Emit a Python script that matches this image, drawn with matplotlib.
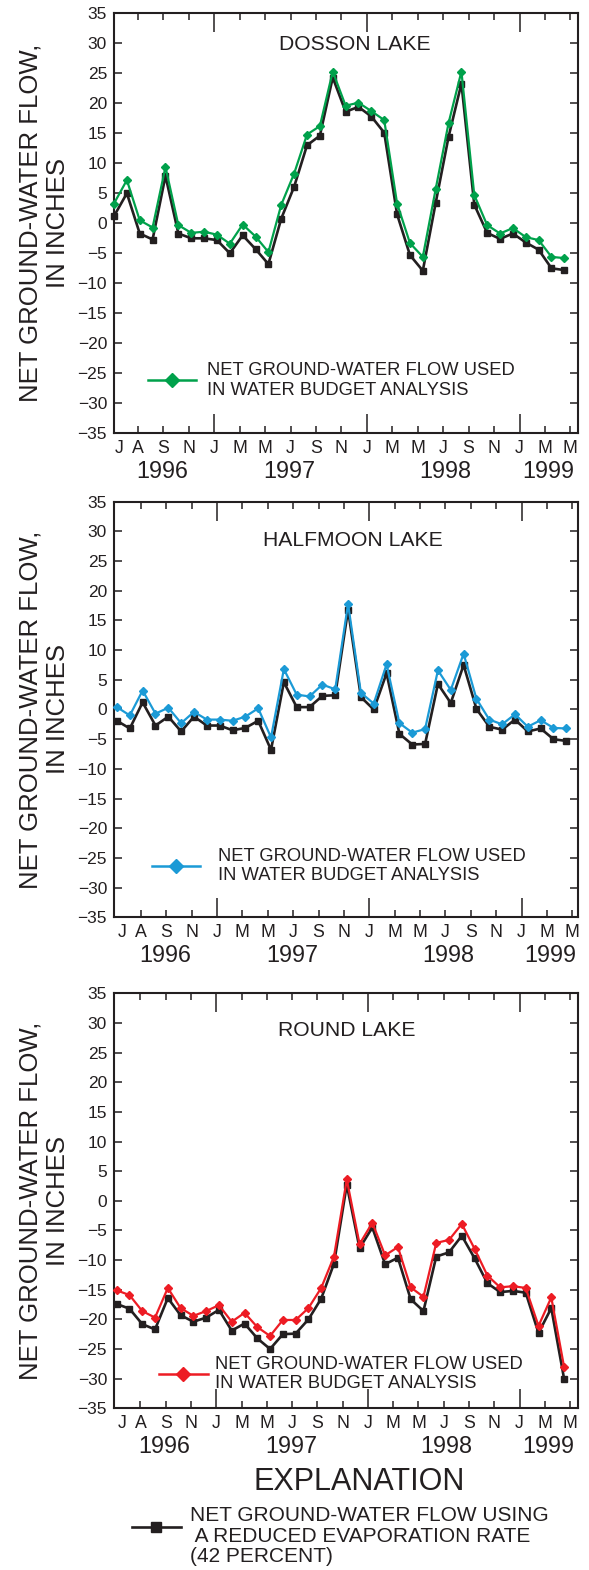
import matplotlib.pyplot as plt
import matplotlib.transforms as mtransforms
import numpy as np
from matplotlib.lines import Line2D

plt.rcParams['font.family'] = ['Liberation Sans', 'DejaVu Sans']

# month index of each observation (July 1996 onward)
obs = np.arange(36)

dosson_used = [3.3, 7.2, 0.5, -0.7, 9.4, -0.3, -1.6, -1.4, -1.9, -3.4, -0.2, -2.2,
               -4.8, 3.1, 8.3, 14.8, 16.2, 25.3, 19.6, 20.1, 18.7, 17.2, 3.3, -3.3,
               -5.6, 5.7, 16.7, 25.3, 4.7, -0.3, -1.7, -0.8, -2.3, -2.8, -5.6, -5.8]
dosson_reduced = [1.2, 5.0, -1.7, -2.7, 7.9, -1.7, -2.5, -2.5, -2.8, -5.0, -2.0, -4.3,
                  -6.8, 0.8, 6.1, 13.0, 14.6, 24.3, 18.6, 19.4, 17.8, 15.1, 1.5, -5.3,
                  -7.9, 3.4, 14.4, 23.3, 3.1, -1.6, -2.6, -1.7, -3.2, -4.4, -7.5, -7.8]

halfmoon_used = [0.4, -1.0, 3.2, -0.7, 0.3, -2.3, -0.4, -1.7, -1.7, -1.9, -1.2, 0.2,
                 -4.7, 6.8, 2.5, 2.2, 4.2, 3.4, 17.8, 2.8, 1.0, 7.6, -2.3, -3.9,
                 -3.3, 6.6, 3.3, 9.4, 1.8, -1.7, -2.5, -0.8, -2.9, -1.8, -3.1, -3.2]
halfmoon_reduced = [-1.9, -3.2, 1.2, -2.7, -1.2, -3.7, -1.2, -2.7, -2.7, -3.5, -3.1, -1.9,
                    -6.8, 4.6, 0.4, 0.4, 2.3, 2.4, 16.8, 2.1, 0.0, 6.1, -4.1, -5.9,
                    -5.8, 4.3, 1.1, 7.5, 0.1, -2.9, -3.4, -1.7, -3.7, -3.2, -5.0, -5.3]

round_used = [-15.1, -15.9, -18.6, -19.7, -14.7, -18.1, -19.4, -18.6, -17.6, -20.4, -18.9, -21.3,
              -22.8, -20.1, -20.1, -18.1, -14.7, -9.4, 3.6, -7.3, -3.7, -9.2, -7.8, -14.6,
              -16.2, -7.1, -6.6, -3.9, -8.1, -12.6, -14.6, -14.4, -14.7, -21.1, -16.3, -28.0]
round_reduced = [-17.4, -18.2, -20.8, -21.7, -16.4, -19.3, -20.4, -19.7, -18.4, -21.9, -20.7, -23.2,
                 -25.0, -22.5, -22.4, -20.0, -16.5, -10.6, 2.7, -8.0, -4.5, -10.7, -9.6, -16.6,
                 -18.6, -9.4, -8.7, -5.9, -9.7, -13.9, -15.4, -15.2, -15.5, -22.3, -18.1, -30.0]

lake_names = ['DOSSON LAKE', 'HALFMOON LAKE', 'ROUND LAKE']
used_colors = ['#00a14b', '#1b9ad6', '#ed1c24']
first_month = 'J'
month_labels = ['A', 'S', 'N', 'J', 'M', 'M', 'J', 'S', 'N', 'J', 'M', 'M',
                'J', 'S', 'N', 'J', 'M', 'M']
year_labels = ['1996', '1997', '1998', '1999']
year_pos = [3.73, 13.64, 25.77, 33.75]

INK = '#231f20'
tick_pos = 1.86 + 1.977 * np.arange(len(month_labels))
long_ticks = [3, 9, 15]

W, H = 589, 1570
fig = plt.figure(figsize=(W / 100, H / 100), dpi=100)

# axes boxes in pixels: (top, bottom)
boxes = [(13.3, 433.3), (501.7, 917.3), (993.3, 1408.3)]
xlims = [(0.0, 36.06), (-0.23, 35.91), (-0.21, 36.09)]
title_x = [0.518, 0.514, 0.501]
title_y = [0.926, 0.906, 0.911]
leg_anchor = [(0.073, 0.126), (0.081, 0.123), (0.097, 0.083)]
leg_pad = [0.60, 0.95, 0.40]

series = [(dosson_used, dosson_reduced), (halfmoon_used, halfmoon_reduced),
          (round_used, round_reduced)]

left, right = 114.0, 578.0
for i, ((used, reduced), (top, bot)) in enumerate(zip(series, boxes)):
    ax = fig.add_axes([left / W, 1 - bot / H, (right - left) / W, (bot - top) / H])

    ax.plot(obs, reduced, color=INK, lw=1.9, marker='s', ms=4.2, clip_on=False, zorder=3)
    ax.plot(obs, used, color=used_colors[i], lw=1.6, marker='D', ms=3.6,
            clip_on=False, zorder=4)

    ax.set_xlim(*xlims[i])
    ax.set_ylim(-35, 35)
    ax.set_yticks(np.arange(-35, 36, 5))
    ax.tick_params(axis='y', direction='in', length=6, width=1.1, left=True, right=True,
                   labelsize=12.5, pad=5, colors=INK)

    ax.set_xticks(tick_pos, month_labels)
    ax.set_xticks([0.4], [first_month], minor=True)
    ax.tick_params(axis='x', which='major', direction='in', length=5, width=1.1,
                   top=True, bottom=True, labelsize=12.8, pad=5, colors=INK)
    ax.tick_params(axis='x', which='minor', length=0, labelsize=12.8, pad=5, colors=INK)
    for k in long_ticks:
        t = ax.xaxis.get_major_ticks()[k]
        t.tick1line.set_markersize(13.5)
        t.tick2line.set_markersize(13.5)

    for sp in ax.spines.values():
        sp.set_linewidth(1.5)
        sp.set_color(INK)

    trans = mtransforms.offset_copy(ax.get_xaxis_transform(), fig=fig, y=-38.5, units='dots')
    for yl, xp in zip(year_labels, year_pos):
        ax.text(xp, 0, yl, transform=trans, ha='center', va='center', fontsize=16.8, color=INK)

    ax.text(title_x[i], title_y[i], lake_names[i], transform=ax.transAxes,
            ha='center', va='center', fontsize=15.2, color=INK)

    ax.text(-0.150, 0.5, 'NET GROUND-WATER FLOW,\nIN INCHES', transform=ax.transAxes,
            rotation=90, ha='center', va='center', fontsize=18.5, color=INK,
            linespacing=1.15, multialignment='center')

    h = Line2D([], [], color=used_colors[i], lw=1.8, marker='D', ms=7)
    ax.legend([h], ['NET GROUND-WATER FLOW USED\nIN WATER BUDGET ANALYSIS'],
              loc='center left', bbox_to_anchor=leg_anchor[i], frameon=False,
              borderpad=0, borderaxespad=0, handlelength=2.65,
              handletextpad=leg_pad[i], fontsize=13.2, labelcolor=INK)

fig.text(358.7 / W, 1 - 1482 / H, 'EXPLANATION', ha='center', va='center',
         fontsize=22, color=INK)
hb = Line2D([], [], color=INK, lw=1.9, marker='s', ms=7)
fig.legend([hb], [''], loc='center left', bbox_to_anchor=(131.7 / W, 1 - 1529 / H),
           frameon=False, borderpad=0, borderaxespad=0, handlelength=2.37,
           handletextpad=0, fontsize=15)
fig.text(190 / W, 1 - 1536 / H,
         'NET GROUND-WATER FLOW USING\n A REDUCED EVAPORATION RATE\n(42 PERCENT)',
         ha='left', va='center', fontsize=15, color=INK, linespacing=1.08)

fig.savefig('out.png', dpi=100)
